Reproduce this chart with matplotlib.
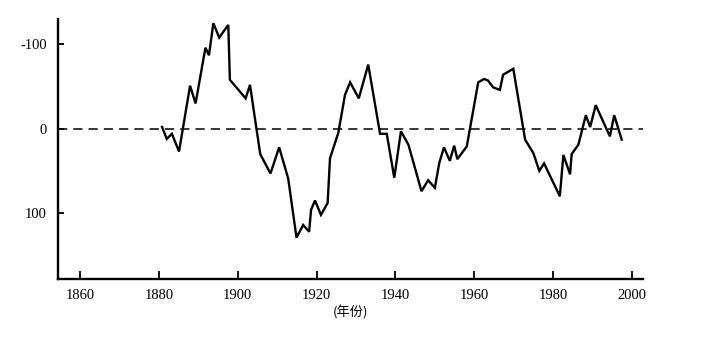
import matplotlib
matplotlib.use("Agg")
import matplotlib.pyplot as plt

years = [1880.8, 1882.0, 1883.3, 1885.1, 1887.9, 1889.3, 1891.8, 1892.7, 1893.8, 1895.3,
         1897.6, 1898.0, 1902.0, 1903.1, 1905.7, 1908.3, 1910.5, 1912.8, 1914.9, 1916.6,
         1918.1, 1918.6, 1919.6, 1921.1, 1922.8, 1923.4, 1925.5, 1927.2, 1928.5, 1930.7,
         1933.1, 1936.1, 1937.8, 1939.7, 1941.4, 1943.3, 1946.6, 1948.3, 1950.0, 1951.1,
         1952.3, 1953.8, 1954.9, 1955.7, 1958.1, 1961.0, 1962.5, 1963.5, 1964.8, 1966.5,
         1967.3, 1969.9, 1972.9, 1975.0, 1976.5, 1977.7, 1981.7, 1982.6, 1984.3, 1984.7,
         1986.4, 1988.3, 1989.4, 1990.8, 1994.4, 1995.5, 1997.4]
values = [-2, 12, 6, 27, -51, -30, -96, -87, -125, -108,
          -123, -58, -36, -52, 30, 53, 22, 59, 129, 114,
          122, 96, 85, 102, 88, 35, 5, -40, -55, -36,
          -76, 6, 6, 58, 3, 19, 74, 61, 70, 41,
          22, 38, 20, 36, 21, -55, -59, -57, -49, -46,
          -64, -71, 13, 29, 50, 41, 80, 31, 54, 30,
          19, -16, -2, -28, 9, -16, 13]

xticks = [1860, 1880, 1900, 1920, 1940, 1960, 1980, 2000]
yticks = [-100, 0, 100]
ytick_labels = ["-100", "0", "100"]
xlabel = "(年份)"

fig = plt.figure(figsize=(7.08, 3.41), dpi=100)
ax = fig.add_axes([58/708, 1 - 279/341, (643 - 58)/708, (279 - 19)/341])

ax.plot(years, values, color="black", lw=1.7, solid_joinstyle="miter")
ax.axhline(0, color="black", lw=1.1, ls=(0, (6, 4)))

ax.set_xlim(1854.4, 2002.8)
ax.set_ylim(178, -130)

ax.spines["top"].set_visible(False)
ax.spines["right"].set_visible(False)
for s in ("left", "bottom"):
    ax.spines[s].set_linewidth(1.7)

ax.set_xticks(xticks)
ax.set_xticklabels([str(t) for t in xticks], family="Liberation Serif", fontsize=10.5)
ax.set_yticks(yticks)
ax.set_yticklabels(ytick_labels, family="Liberation Serif", fontsize=10.5)
ax.tick_params(axis="x", direction="in", length=6, width=1.3, pad=7)
ax.tick_params(axis="y", direction="in", length=4, width=1.3, pad=8)

ax.set_xlabel(xlabel, family=["Noto Sans CJK SC", "DejaVu Sans"], fontsize=9.5, labelpad=3)

fig.savefig("out.png", dpi=100)
